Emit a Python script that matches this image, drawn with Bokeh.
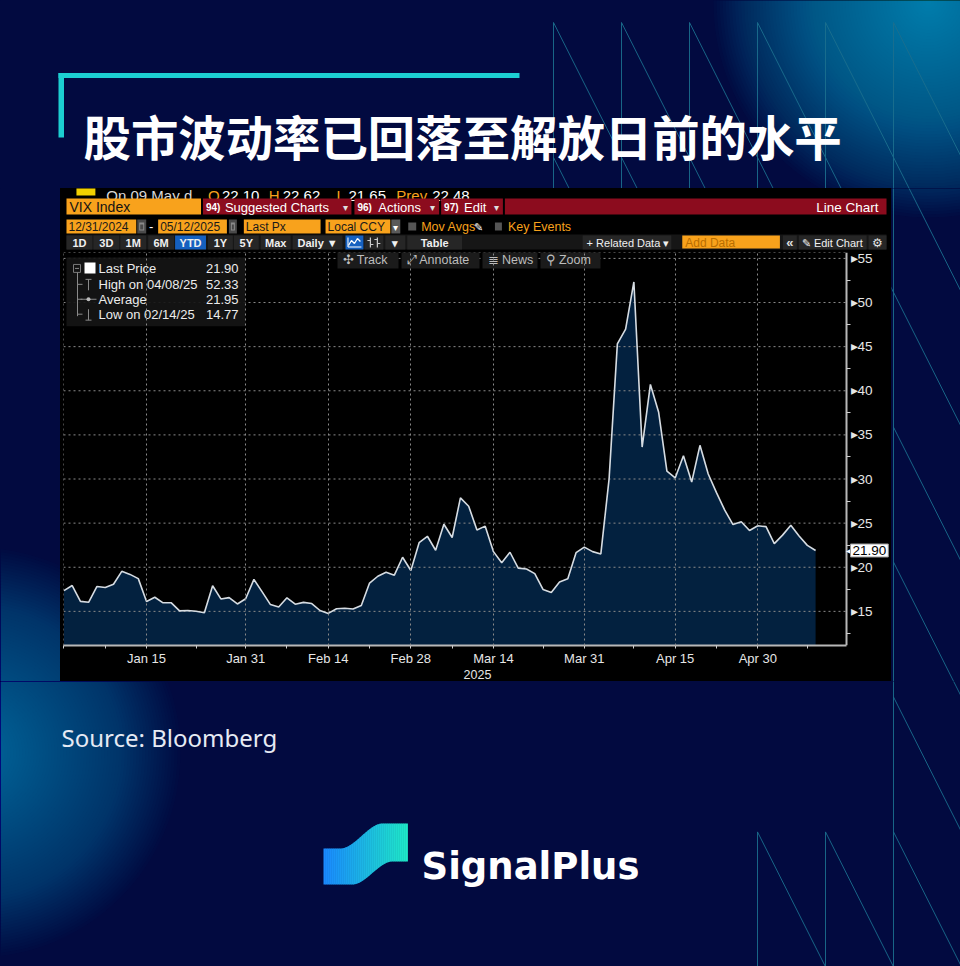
import numpy as np
from datetime import date
from bokeh.plotting import figure
from bokeh.models import Range1d, FixedTicker, Label
from bokeh.layouts import row, column
from bokeh.embed import file_html
from bokeh.resources import INLINE
from bokeh.core.properties import value

# ---------------- data (VIX daily close, YTD 2025) ----------------
trade_days = [
    "2025-01-01", "2025-01-02", "2025-01-03", "2025-01-06", "2025-01-07", "2025-01-08", "2025-01-09",
    "2025-01-10", "2025-01-13", "2025-01-14", "2025-01-15", "2025-01-16", "2025-01-17", "2025-01-20",
    "2025-01-21", "2025-01-22", "2025-01-23", "2025-01-24", "2025-01-27", "2025-01-28", "2025-01-29",
    "2025-01-30", "2025-01-31",
    "2025-02-03", "2025-02-04", "2025-02-05", "2025-02-06", "2025-02-07", "2025-02-10", "2025-02-11",
    "2025-02-12", "2025-02-13", "2025-02-14", "2025-02-17", "2025-02-18", "2025-02-19", "2025-02-20",
    "2025-02-21", "2025-02-24", "2025-02-25", "2025-02-26", "2025-02-27", "2025-02-28",
    "2025-03-03", "2025-03-04", "2025-03-05", "2025-03-06", "2025-03-07", "2025-03-10", "2025-03-11",
    "2025-03-12", "2025-03-13", "2025-03-14", "2025-03-17", "2025-03-18", "2025-03-19", "2025-03-20",
    "2025-03-21", "2025-03-24", "2025-03-25", "2025-03-26", "2025-03-27", "2025-03-28", "2025-03-31",
    "2025-04-01", "2025-04-02", "2025-04-03", "2025-04-04", "2025-04-07", "2025-04-08", "2025-04-09",
    "2025-04-10", "2025-04-11", "2025-04-14", "2025-04-15", "2025-04-16", "2025-04-17", "2025-04-21",
    "2025-04-22", "2025-04-23", "2025-04-24", "2025-04-25", "2025-04-28", "2025-04-29", "2025-04-30",
    "2025-05-01", "2025-05-02", "2025-05-05", "2025-05-06", "2025-05-07", "2025-05-08", "2025-05-09",
]
vix_close = [
    17.35, 17.93, 16.13, 16.04, 17.82, 17.70, 18.07, 19.54, 19.19, 18.71, 16.12, 16.60, 15.97, 15.97,
    15.06, 15.10, 15.02, 14.85, 17.90, 16.41, 16.56, 15.84, 16.43,
    18.62, 17.21, 15.77, 15.50, 16.54, 15.81, 16.02, 15.89, 15.10, 14.77, 15.30, 15.35, 15.27, 15.66,
    18.21, 18.98, 19.43, 19.10, 21.13, 19.63,
    22.78, 23.51, 21.93, 24.87, 23.37, 27.86, 26.92, 24.23, 24.66, 21.77, 20.51, 21.70, 19.90, 19.80,
    19.28, 17.48, 17.15, 18.33, 18.69, 21.65, 22.28,
    21.77, 21.51, 30.02, 45.31, 46.98, 52.33, 33.62, 40.72, 37.56, 30.89, 30.12, 32.64, 29.65, 33.82,
    30.57, 28.45, 26.47, 24.84, 25.15, 24.17, 24.70,
    24.60, 22.68, 23.64, 24.76, 23.55, 22.48, 21.90,
]
major_tick_days = ["2025-01-15", "2025-01-31", "2025-02-14", "2025-02-28", "2025-03-14",
                   "2025-03-31", "2025-04-15", "2025-04-30"]
minor_tick_days = ["2025-01-01", "2025-01-08", "2025-01-23", "2025-02-07", "2025-02-21",
                   "2025-03-07", "2025-03-24", "2025-04-08", "2025-04-23", "2025-05-08"]
y_major = [15, 20, 25, 30, 35, 40, 45, 50, 55]
y_minor = [12.5, 17.5, 22.5, 27.5, 32.5, 37.5, 42.5, 47.5, 52.5]
legend_labels = ["Last Price", "High on 04/08/25", "Average", "Low on 02/14/25"]
legend_values = ["21.90", "52.33", "21.95", "14.77"]
last_price = 21.90
title_text = "股市波动率已回落至解放日前的水平"
source_text = "Source: Bloomberg"
brand_text = "SignalPlus"

# ---------------- styling ----------------
BG = "#020a40"
UI = "Liberation Sans"
ORANGE = "#f8a21c"
RED = "#8c0c1e"
LINE_C = "#1b6f8e"


def txt(p, x, y, s, size, color, align="left", baseline="middle", font=UI, style="normal"):
    p.text(x=[x], y=[y], text=[s], text_font=value(font), text_font_size=f"{size}px",
           text_color=color, text_align=align, text_baseline=baseline, text_font_style=style)


def box(p, l, r, t, b, color, alpha=1.0, line=None):
    p.quad(left=[l], right=[r], top=[t], bottom=[b], fill_color=color, fill_alpha=alpha,
           line_color=line)


def pix_fig(x0, x1, y0, y1, bg):
    p = figure(width=int(x1 - x0), height=int(y1 - y0), x_range=Range1d(x0, x1),
               y_range=Range1d(y1, y0), x_axis_location=None, y_axis_location=None,
               toolbar_location=None, tools="", output_backend="svg", min_border=0,
               styles={"background-color": bg})
    p.grid.visible = False
    p.outline_line_color = None
    p.background_fill_color = bg
    p.border_fill_color = None
    return p


def glow(p, cx, cy, R, color, n, a):
    rs = list(np.linspace(R, R / n, n))
    p.circle(x=[cx] * n, y=[cy] * n, radius=rs, fill_color=color, fill_alpha=a, line_color=None)


def decor(p):
    glow(p, 928, 2, 215, "#00b8dc", 70, 0.024)
    glow(p, -25, 752, 205, "#0a8cc4", 70, 0.021)
    cols = [553 + 68 * i for i in range(7)]
    rows_ = [22 + 134.9 * j for j in range(8)]
    xs, ys = [], []
    for i in range(5):
        xs.append([cols[i], cols[i]]); ys.append([rows_[0], rows_[2]])
    xs.append([cols[5], cols[5]]); ys.append([rows_[0], rows_[7]])
    for i in (3, 4):
        xs.append([cols[i], cols[i]]); ys.append([rows_[6], rows_[7]])
    for j in (0, 1):
        for i in range(6):
            xs.append([cols[i], cols[i + 1]]); ys.append([rows_[j], rows_[j + 1]])
    for j in (2, 3, 4, 5):
        xs.append([cols[5], cols[6]]); ys.append([rows_[j], rows_[j + 1]])
    for i in (3, 4, 5):
        xs.append([cols[i], cols[i + 1]]); ys.append([rows_[6], rows_[7]])
    p.multi_line(xs=xs, ys=ys, line_color=LINE_C, line_width=1, line_alpha=0.9)


# ---------------- top band (title) ----------------
top = pix_fig(0, 960, 0, 188, BG)
decor(top)
box(top, 58, 519, 72.5, 77.5, "#1ccfd2")
box(top, 58, 63.5, 72.5, 137, "#1ccfd2")
txt(top, 83, 135, title_text, 47.4, "white", baseline="alphabetic",
    font="Noto Sans CJK SC", style="bold")

# ---------------- side spacers ----------------
left = pix_fig(0, 60, 188, 681, BG)
decor(left)
right = pix_fig(891, 960, 188, 681, BG)
decor(right)

# ---------------- Bloomberg header rows ----------------
hdr = pix_fig(60, 891, 188, 250, "#000000")
box(hdr, 73, 92, 182, 195, "#f2d000")
txt(hdr, 103, 195, "On 09 May d", 15, "#d8d8d8", baseline="alphabetic")
for xl, lab, xv, val in [(205, "O", 219, "22.10"), (266, "H", 280, "22.62"),
                         (334, "L", 346, "21.65"), (394, "Prev", 430, "22.48")]:
    txt(hdr, xl, 195, lab, 15, ORANGE, baseline="alphabetic")
    txt(hdr, xv, 195, val, 15, "#ffffff", baseline="alphabetic")
# row 1
box(hdr, 63, 198, 198, 214, ORANGE)
txt(hdr, 66, 206.5, "VIX Index", 14, "#141414")
for l, r in [(200, 349), (352, 437), (439, 501), (503, 886)]:
    box(hdr, l, r, 198, 214, RED)
for xn, num, xt, lab, xa in [(203, "94)", 222, "Suggested Charts", 341),
                             (355, "96)", 376, "Actions", 428),
                             (442, "97)", 462, "Edit", 492)]:
    txt(hdr, xn, 206.5, num, 10, "#ffffff", style="bold")
    txt(hdr, xt, 206.5, lab, 13, "#ffffff")
    txt(hdr, xa, 206.5, "▾", 10, "#e0e0e0")
txt(hdr, 878, 206.5, "Line Chart", 13.5, "#ffffff", align="right")
# row 2
for l, r, s in [(63, 133, "12/31/2024"), (155, 224, "05/12/2025"), (241, 318, "Last Px"),
                (323, 388, "Local CCY")]:
    box(hdr, l, r, 219, 233, ORANGE)
    txt(hdr, l + 2, 226.5, s, 12, "#1a1a1a")
for l, r in [(134, 143), (226, 234)]:
    box(hdr, l, r, 219, 233, "#4a4a4a")
    box(hdr, l + 2, r - 2, 222, 230, "#8a8a8a")
    box(hdr, l + 3, r - 3, 224, 229, "#4a4a4a")
txt(hdr, 148, 226, "-", 13, "#ffffff", align="center")
box(hdr, 389, 398, 219, 233, "#5a5a5a")
txt(hdr, 393.5, 226.5, "▾", 10, "#ffffff", align="center")
box(hdr, 406, 414, 222, 230, "#555555")
txt(hdr, 419, 226.5, "Mov Avgs", 12.5, ORANGE)
txt(hdr, 472, 226.5, "✎", 11, "#ffffff")
box(hdr, 493, 500, 222, 230, "#555555")
txt(hdr, 506, 226.5, "Key Events", 12.5, ORANGE)
# row 3
box(hdr, 63, 886, 234, 249, "#161616")
btns = [(63, 89, "1D"), (90, 116, "3D"), (117, 143, "1M"), (145, 171, "6M"), (172, 203, "YTD"),
        (205, 230, "1Y"), (231, 256, "5Y"), (258, 288, "Max"), (290, 340, "Daily ▼"),
        (343, 361, ""), (362, 381, ""), (383, 403, "▾"), (405, 460, "Table")]
for l, r, s in btns:
    col = "#1560c0" if s in ("YTD", "") and l < 362 else "#262626"
    box(hdr, l, r, 235, 249, col)
    if s:
        txt(hdr, (l + r) / 2, 242, s, 11, "#f0f0f0", align="center", style="bold")
hdr.line(x=[346, 349, 352, 355, 358], y=[245, 240, 243, 238, 241], line_color="white", line_width=1.3)
hdr.line(x=[345.5, 345.5, 359], y=[237, 246.5, 246.5], line_color="white", line_width=1)
hdr.multi_line(xs=[[368, 368], [375, 375], [365, 368], [368, 371], [372, 375], [375, 378]],
               ys=[[237, 247], [237, 247], [240, 240], [244, 244], [239, 239], [243, 243]],
               line_color="#cfcfcf", line_width=1.2)
box(hdr, 581, 670, 235, 249, "#262626")
txt(hdr, 585, 242, "+ Related Data ▾", 11, "#f0f0f0")
box(hdr, 681, 779, 235, 248, ORANGE)
txt(hdr, 684, 242, "Add Data", 12, "#b86e00")
box(hdr, 782, 796, 235, 249, "#262626")
txt(hdr, 789, 242, "«", 13, "#e0e0e0", align="center", style="bold")
box(hdr, 798, 866, 235, 249, "#262626")
txt(hdr, 801, 242, "✎ Edit Chart", 11, "#f0f0f0")
box(hdr, 868, 886, 235, 249, "#262626")
txt(hdr, 877, 242, "⚙", 12, "#e0e0e0", align="center")

# ---------------- VIX chart ----------------
n = len(vix_close)
xi = list(range(n))
X0, DX = 63.44, 8.26      # screen position of first trading slot and slot width
Y15, DY = 612.7, 8.869    # screen position of 15 and pixels per VIX point


def px2x(px):
    return (px - X0) / DX


def py2y(py):
    return 15 + (Y15 - py) / DY


XS, XE = px2x(63), px2x(891)
XAX = px2x(846)           # where the price axis sits
YS, YE = py2y(647), py2y(252)

chart = figure(width=831, height=431, x_range=Range1d(XS, XE), y_range=Range1d(YS, YE),
               y_axis_location="right", toolbar_location=None, tools="", output_backend="svg",
               min_border_left=3, min_border_right=0, min_border_top=2, min_border_bottom=34,
               styles={"background-color": "#000000"})
chart.background_fill_color = "#000000"
chart.border_fill_color = None
chart.outline_line_color = None

chart.varea(x=xi, y1=[YS] * n, y2=vix_close, fill_color="#03213f")

# dotted grid (horizontal lines end at the price axis)
grid_xs = [[XS, XAX] for _ in y_major] + [[XS, XAX], [XS, XS]]
grid_ys = [[v, v] for v in y_major] + [[YE, YE], [YS, YE]]
chart.multi_line(xs=grid_xs, ys=grid_ys, line_color="#8a8a8a", line_dash="2 3", line_width=1)
chart.line(x=xi, y=vix_close, line_color="#d6dce2", line_width=1.6)

major_idx = [trade_days.index(d) for d in major_tick_days]
minor_idx = [trade_days.index(d) for d in minor_tick_days]
major_lab = {i: date.fromisoformat(trade_days[i]).strftime("%b %d") for i in major_idx}

xa = chart.xaxis[0]
xa.ticker = FixedTicker(ticks=major_idx, minor_ticks=minor_idx)
xa.bounds = (XS, XAX)
xa.major_label_overrides = major_lab
xa.axis_label = "2025"
xa.axis_label_text_font = UI
xa.axis_label_text_font_style = "normal"
xa.axis_label_text_font_size = "12.5px"
xa.axis_label_text_color = "#e6e6e6"
xa.axis_label_standoff = 1
xa.major_label_text_font = UI
xa.major_label_text_font_size = "13px"
xa.major_label_text_color = "#e6e6e6"
xa.major_label_standoff = 2
xa.axis_line_color = "#b8b8b8"
xa.axis_line_width = 2
xa.major_tick_line_color = "#d0d0d0"
xa.minor_tick_line_color = "#d0d0d0"
xa.major_tick_out = 3
xa.major_tick_in = 0
xa.minor_tick_out = 3
xa.minor_tick_in = 0

chart.xgrid[0].ticker = FixedTicker(ticks=major_idx)
chart.xgrid[0].grid_line_color = "#8a8a8a"
chart.xgrid[0].grid_line_dash = "2 3"
chart.xgrid[0].level = "overlay"
chart.ygrid[0].visible = False

ya = chart.yaxis[0]
ya.fixed_location = XAX
ya.ticker = FixedTicker(ticks=y_major, minor_ticks=y_minor)
ya.major_label_overrides = {v: "▸" + str(v) for v in y_major}
ya.major_label_text_font = UI
ya.major_label_text_font_size = "13.5px"
ya.major_label_text_color = "#e6e6e6"
ya.major_label_standoff = 0
ya.major_tick_out = 0
ya.major_tick_in = 0
ya.minor_tick_out = 4
ya.minor_tick_in = 0
ya.minor_tick_line_color = "#d0d0d0"
ya.axis_line_color = "#b8b8b8"
ya.axis_line_width = 2

# chart toolbar row (Track / Annotate / News / Zoom)
for l, r, s in [(337, 398, "✣ Track"), (401, 479, "⤢ Annotate"), (482, 537, "≣ News"),
                (540, 600, "⚲ Zoom")]:
    chart.quad(left=[px2x(l)], right=[px2x(r)], top=[py2y(251)], bottom=[py2y(268)],
               fill_color="#1b1b1b", line_color=None)
    chart.text(x=[px2x(l + 5)], y=[py2y(259.5)], text=[s], text_font=value(UI),
               text_font_size="12.5px", text_color="#bdbdbd", text_baseline="middle")

# price legend panel
chart.quad(left=[px2x(66)], right=[px2x(245)], top=[py2y(257)], bottom=[py2y(326)],
           fill_color="#151515", fill_alpha=0.92, line_color=None)
chart.quad(left=[px2x(73)], right=[px2x(80)], top=[py2y(264)], bottom=[py2y(272)],
           fill_color=None, line_color="#7a7a7a", line_width=1)
chart.quad(left=[px2x(84)], right=[px2x(95)], top=[py2y(262)], bottom=[py2y(273)],
           fill_color="#ffffff", line_color=None)
tree_xs = [[77, 77], [77, 82], [77, 82], [77, 82], [88, 88], [85, 91], [80, 96], [88, 88], [85, 91],
           [74.5, 78.5]]
tree_ys = [[272, 316], [284, 284], [299, 299], [314, 314], [279, 290], [279, 279], [299, 299],
           [309, 320], [320, 320], [268, 268]]
chart.multi_line(xs=[[px2x(v) for v in a] for a in tree_xs],
                 ys=[[py2y(v) for v in a] for a in tree_ys], line_color="#8a8a8a", line_width=1)
chart.scatter(x=[px2x(88)], y=[py2y(299)], size=4, fill_color="#bdbdbd", line_color=None)
leg_y = [268, 284, 299, 314]
chart.text(x=[px2x(98)] * 4, y=[py2y(v) for v in leg_y], text=legend_labels, text_font=value(UI),
           text_font_size="13px", text_color="#ececec", text_baseline="middle")
chart.text(x=[px2x(238)] * 4, y=[py2y(v) for v in leg_y], text=legend_values, text_font=value(UI),
           text_font_size="13px", text_color="#ececec", text_baseline="middle", text_align="right")

# last price tag on the axis
chart.add_layout(Label(x=px2x(845), y=last_price, text="◀", text_color="#ffffff",
                       text_font_size="10px", text_baseline="middle", text_align="left"))
chart.add_layout(Label(x=px2x(850), y=last_price, text=f"{last_price:.2f}", text_color="#000000",
                       text_font=UI, text_font_size="13.5px", text_baseline="middle",
                       background_fill_color="#ffffff", border_line_color="#9a9a9a", padding=2))

# ---------------- bottom band (source + logo) ----------------
bot = pix_fig(0, 960, 681, 966, BG)
decor(bot)
txt(bot, 61, 737, source_text, 24, "#e6eaf4", baseline="alphabetic", font="Noto Sans")


def smooth(t):
    t = min(max(t, 0.0), 1.0)
    return t * t * (3 - 2 * t)


def ytop(x):
    return 848 - 25 * smooth((x - 340) / 42)


def ybot(x):
    return 884 - 23 * smooth((x - 352) / 40)


c0 = np.array([0x1a, 0x8a, 0xff])
c1 = np.array([0x1f, 0xe8, 0xc8])
N = 42
edges = np.linspace(323, 407, N + 1)
pxs, pys, pcs = [], [], []
for k in range(N):
    a, b = edges[k], edges[k + 1] + 0.4
    pxs.append([a, b, b, a])
    pys.append([ytop(a), ytop(b), ybot(b), ybot(a)])
    c = (c0 + (c1 - c0) * (k / (N - 1))).astype(int)
    pcs.append("#%02x%02x%02x" % tuple(c))
bot.patches(xs=pxs, ys=pys, fill_color=pcs, line_color=None)
txt(bot, 421, 866, brand_text, 37, "#ffffff", baseline="alphabetic", font="DejaVu Sans", style="bold")

mid = column(hdr, chart, styles={"background-color": "#000000"})
body = row(left, mid, right, styles={"background-color": BG})
layout = column(top, body, bot, styles={"background-color": BG})
open("out.html", "w").write(file_html(layout, INLINE))
